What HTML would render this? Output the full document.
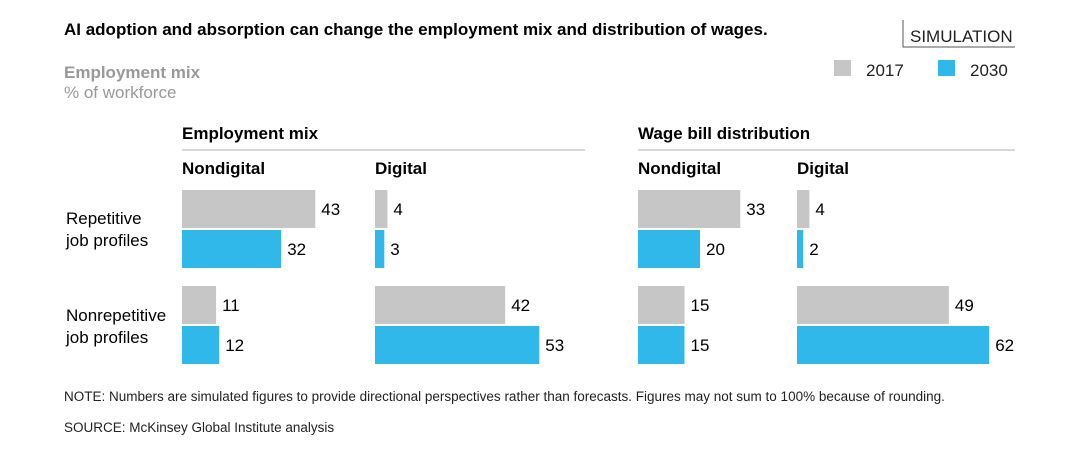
<!DOCTYPE html>
<html><head><meta charset="utf-8"><style>
body{margin:0;background:#fff;font-family:"Liberation Sans",Arial,sans-serif;}
svg text{font-family:"Liberation Sans",Arial,sans-serif;}
</style></head><body>
<svg id="c" width="1080" height="447" xmlns="http://www.w3.org/2000/svg">
<text x="64" y="35" font-size="17" font-weight="bold" fill="#000">AI adoption and absorption can change the employment mix and distribution of wages.</text>
<g>
<path d="M903 20 V47 H1015" fill="none" stroke="#555" stroke-width="1"/>
<text x="910" y="42" font-size="17" fill="#222">SIMULATION</text></g>
<g>
<rect x="834" y="60" width="17" height="16" fill="#c6c6c6"/>
<text x="866" y="76" font-size="17" fill="#222">2017</text>
<rect x="938" y="60" width="17" height="16" fill="#30b8eb"/>
<text x="970" y="76" font-size="17" fill="#222">2030</text></g>
<text x="64" y="78" font-size="17" font-weight="bold" fill="#999">Employment mix</text>
<text x="64" y="98" font-size="17" fill="#999">% of workforce</text>
<text x="182" y="139" font-size="17" font-weight="bold">Employment mix</text>
<line x1="182" y1="150" x2="585" y2="150" stroke="#ccc" stroke-width="1.5"/>
<text x="638" y="139" font-size="17" font-weight="bold">Wage bill distribution</text>
<line x1="638" y1="150" x2="1015" y2="150" stroke="#ccc" stroke-width="1.5"/>
<text x="182" y="174" font-size="17" font-weight="bold">Nondigital</text>
<text x="375" y="174" font-size="17" font-weight="bold">Digital</text>
<text x="638" y="174" font-size="17" font-weight="bold">Nondigital</text>
<text x="797" y="174" font-size="17" font-weight="bold">Digital</text>
<g><text x="66" y="224" font-size="17">Repetitive</text><text x="66" y="246" font-size="17">job profiles</text></g>
<g><text x="66" y="321" font-size="17">Nonrepetitive</text><text x="66" y="343" font-size="17">job profiles</text></g>
<g id="bars"></g>
<text x="64" y="401" font-size="13.5" fill="#222">NOTE: Numbers are simulated figures to provide directional perspectives rather than forecasts. Figures may not sum to 100% because of rounding.</text>
<text x="64" y="432" font-size="13.5" fill="#222">SOURCE:  McKinsey Global Institute analysis</text>
</svg>
<script>
const panels = ["employment-nondigital","employment-digital","wage-nondigital","wage-digital"];
const rows = ["repetitive","nonrepetitive"];
const values2017 = [[43,11],[4,42],[33,15],[4,49]];
const values2030 = [[32,12],[3,53],[20,15],[2,62]];
const origins=[182,375,638,797];
const scale=3.1;
const x=v=>v*scale;
const rowY=[190,286];
const g=document.getElementById('bars');
const NS="http://www.w3.org/2000/svg";
panels.forEach((p,pi)=>{
  rows.forEach((r,ri)=>{
    [[values2017,"#c6c6c6","2017",0],[values2030,"#30b8eb","2030",40]].forEach(([arr,col,yr,off])=>{
      const v=arr[pi][ri];
      const rect=document.createElementNS(NS,'rect');
      rect.setAttribute('x',origins[pi]);rect.setAttribute('y',rowY[ri]+off);
      rect.setAttribute('width',x(v));rect.setAttribute('height',38);rect.setAttribute('fill',col);
      
      
      g.appendChild(rect);
      const t=document.createElementNS(NS,'text');
      t.setAttribute('x',origins[pi]+x(v)+6);t.setAttribute('y',rowY[ri]+off+25);
      t.setAttribute('font-size','17');t.textContent=v;
      
      
      g.appendChild(t);
    });
  });
});
</script>
</body></html>
